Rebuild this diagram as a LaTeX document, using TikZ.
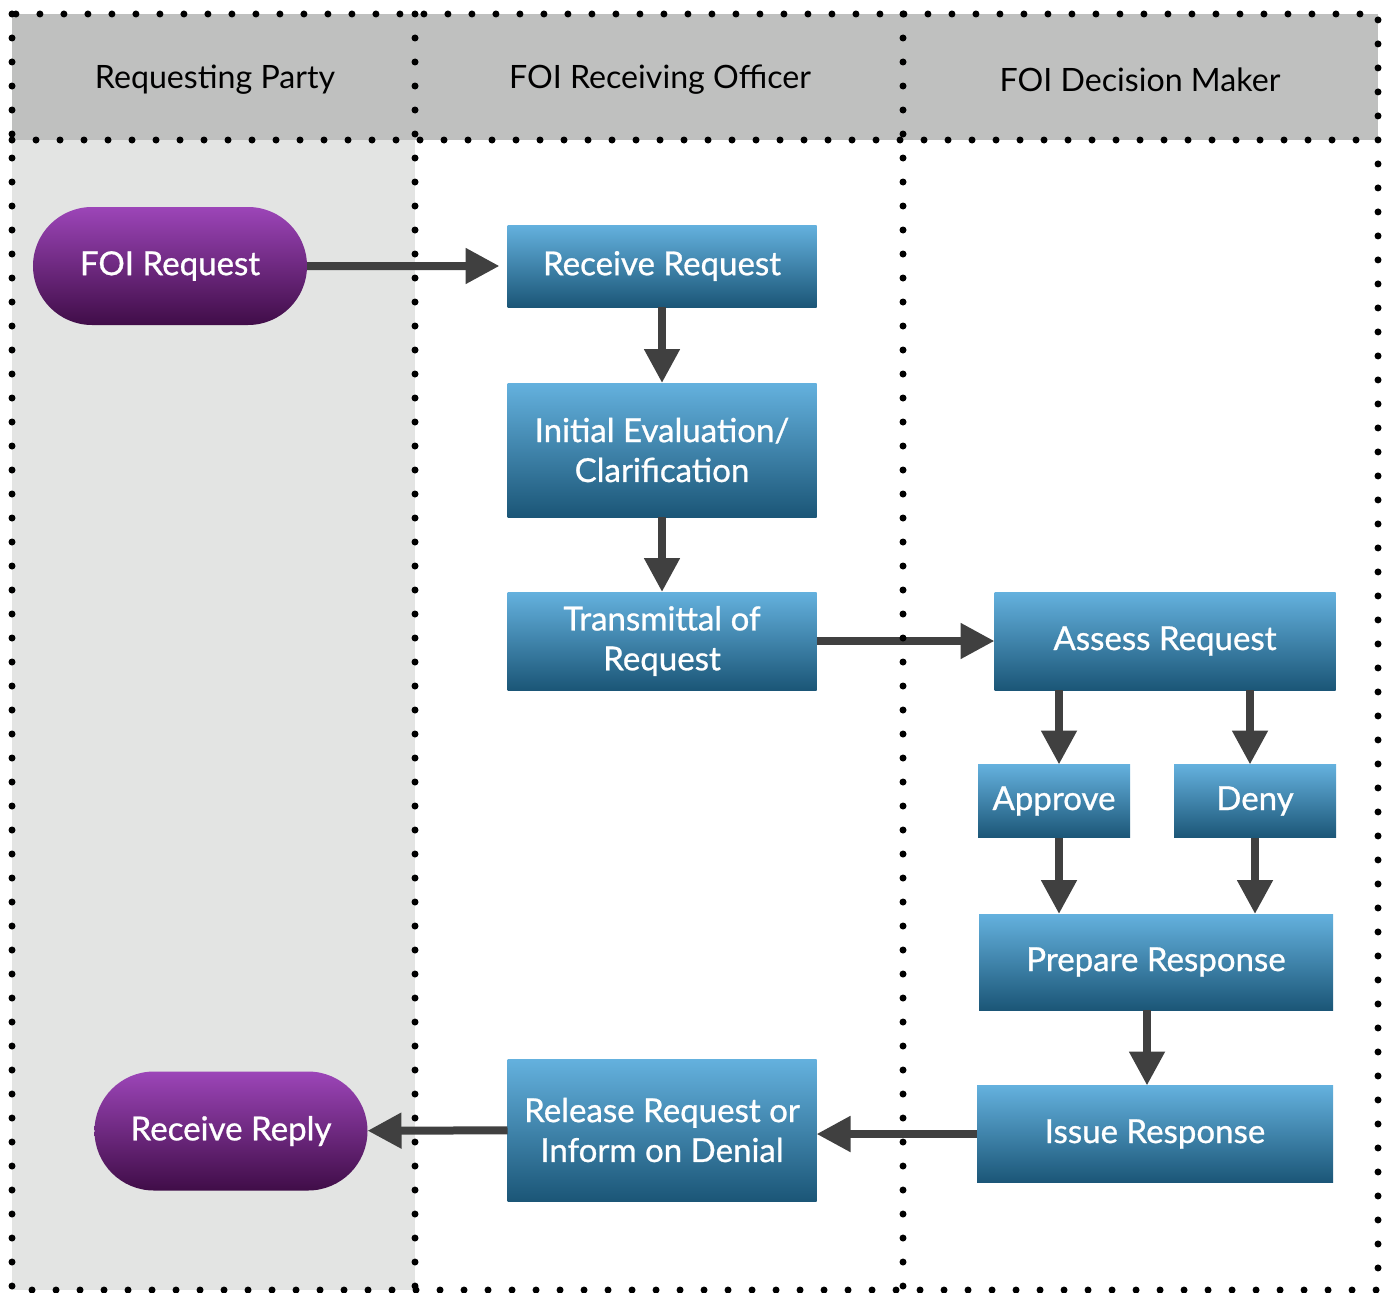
\documentclass[tikz,border=0pt]{standalone}
\usepackage{fontspec}
\setmainfont{Lato}
\newfontfamily\steplabelfont{Lato}[FakeBold=0.8]
\usetikzlibrary{arrows.meta,shapes.misc}

\definecolor{hdrgrey}{HTML}{BFC0BF}
\definecolor{lanegrey}{HTML}{E3E4E3}
\definecolor{boxtop}{HTML}{64B1DE}
\definecolor{boxbot}{HTML}{1B5677}
\definecolor{pilltop}{HTML}{9C45B8}
\definecolor{pillbot}{HTML}{400D48}
\definecolor{arrowgrey}{HTML}{404040}

\begin{document}
\begin{tikzpicture}[x=0.2mm,y=-0.2mm,
    every node/.style={inner sep=0pt,outer sep=0pt,align=center,font=\fontsize{18.3}{22.7}\selectfont},
    lane/.style={line width=1.4mm,line cap=round,dash pattern=on 0pt off 4.8mm},
    task/.style={rectangle,top color=boxtop,bottom color=boxbot,text=white,minimum width=61.8mm,
      font=\steplabelfont\fontsize{18.8}{22.7}\selectfont},
    terminal/.style={rounded rectangle,top color=pilltop,bottom color=pillbot,text=white,minimum width=54.8mm,minimum height=23.6mm,
      font=\steplabelfont\fontsize{18.8}{22.7}\selectfont},
    flow/.style={arrowgrey,line width=1.6mm,-{Triangle[length=6.8mm,width=6.8mm]}}]
            \useasboundingbox (0,0) rectangle (1389,1292);
            % swimlane backgrounds
            \fill [hdrgrey] (12,14) rectangle (1378,140);
            \fill [lanegrey] (12,140) rectangle (415,1290);
            \node (hparty) at (215,80) {Requesting Party};
            \node (hofficer) at (660,80) {FOI Receiving Officer};
            \node (hdecider) at (1140,80) {FOI Decision Maker};
            % steps
            \node [terminal] (foireq) at (170,266) {FOI Request};
            \node [task,minimum height=16.4mm] (recv) at (662,266) {Receive Request};
            \node [task,minimum height=26.8mm] (init) at (662,450) {Initial Evaluation/\\Clarification};
            \node [task,minimum height=19.6mm] (trans) at (662,641) {Transmittal of\\Request};
            \node [task,minimum width=68.2mm,minimum height=19.6mm] (assess) at (1165,641) {Assess Request};
            \node [task,minimum width=30.4mm,minimum height=14.6mm] (approve) at (1054,801) {Approve};
            \node [task,minimum width=32.4mm,minimum height=14.6mm] (deny) at (1255,801) {Deny};
            \node [task,minimum width=70.8mm,minimum height=19.2mm] (prep) at (1156,962) {Prepare Response};
            \node [task,minimum width=71.2mm,minimum height=19.4mm] (issue) at (1155,1134) {Issue Response};
            \node [task,minimum height=28.4mm] (release) at (662,1130) {Release Request or\\Inform on Denial};
            \node [terminal,minimum width=54.6mm,minimum height=23.8mm] (reply) at (231,1131) {Receive Reply};
            % flow
            \draw [flow,shorten >=1.6mm] (foireq) -- (recv);
            \draw [flow] (recv) -- (init);
            \draw [flow] (init) -- (trans);
            \draw [flow] (trans) -- (assess);
            \draw [flow] ([xshift=1mm]approve.north |- assess.south) -- ([xshift=1mm]approve.north);
            \draw [flow] ([xshift=-1mm]deny.north |- assess.south) -- ([xshift=-1mm]deny.north);
            \draw [flow] ([xshift=1mm]approve.south) -- ([xshift=1mm]approve.south |- prep.north);
            \draw [flow] (deny.south) -- (deny.south |- prep.north);
            \draw [flow] ([xshift=-1.8mm]prep.south) -- ([xshift=-1.8mm]prep.south |- issue.north);
            \draw [flow] (issue.west) -- (issue.west -| release.east);
            \draw [flow] (release) -- (reply);
            % dotted lane borders
            \draw [lane] (12,14) rectangle (1378,1290);
            \draw [lane] (12,140) -- (1378,140);
            \draw [lane] (415,14) -- (415,1290);
            \draw [lane] (903,14) -- (903,1290);
\end{tikzpicture}
\end{document}
